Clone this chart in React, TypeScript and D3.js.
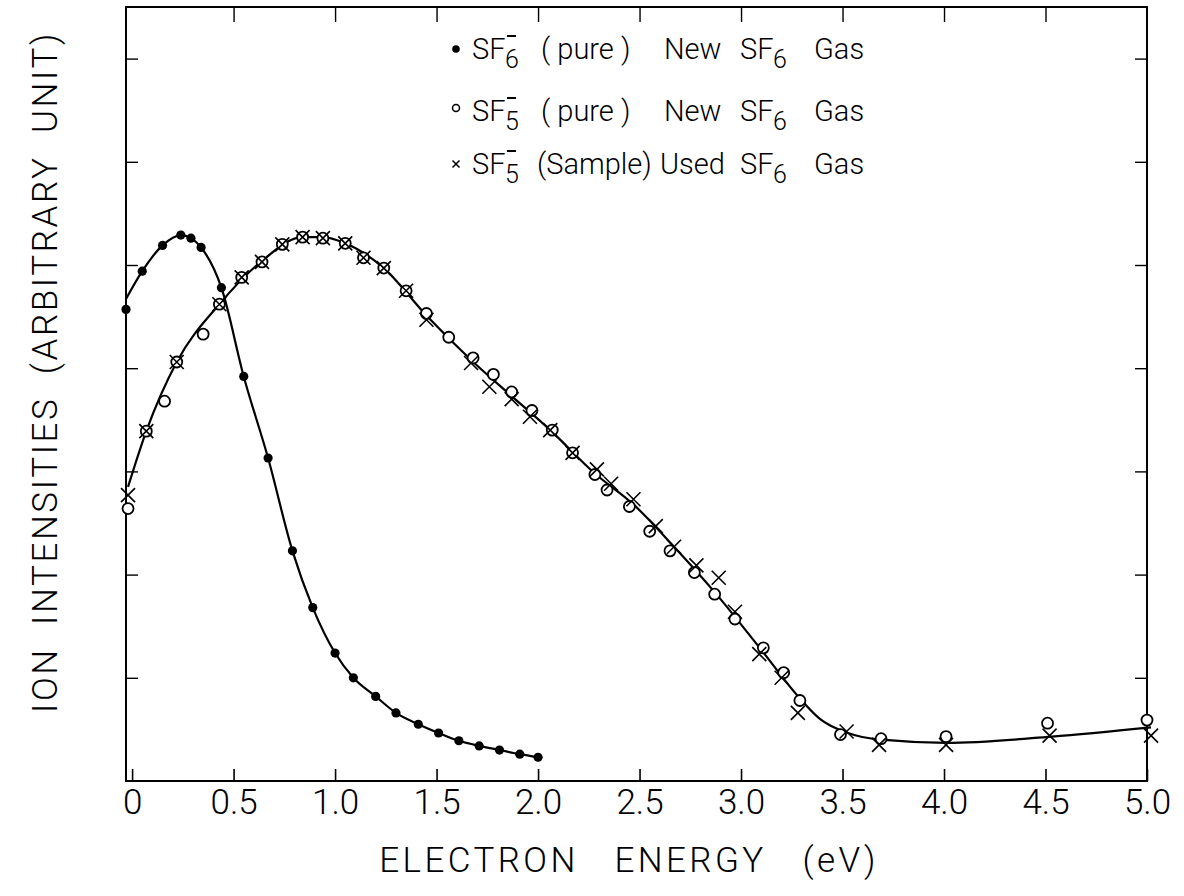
import React, { useEffect, useRef } from 'react';
import * as d3 from 'd3';

// SF6- (pure), new SF6 gas  (filled dots)
const sf6Energy = [-0.03, 0.05, 0.15, 0.24, 0.29, 0.34, 0.44, 0.55, 0.67, 0.79, 0.89, 1.0, 1.09, 1.2, 1.3, 1.41, 1.51, 1.61, 1.71, 1.81, 1.91, 2.0];
const sf6Intensity = [4.57, 4.94, 5.19, 5.29, 5.26, 5.17, 4.78, 3.92, 3.13, 2.23, 1.68, 1.24, 1.0, 0.82, 0.66, 0.55, 0.465, 0.39, 0.34, 0.3, 0.26, 0.23];
// hand drawn line through the SF6- dots
const sf6CurveEnergy = [-0.03, 0.05, 0.15, 0.24, 0.29, 0.34, 0.44, 0.55, 0.67, 0.79, 0.89, 1.0, 1.09, 1.2, 1.3, 1.41, 1.51, 1.61, 1.71, 1.81, 1.91, 2.0];
const sf6CurveIntensity = [4.67, 4.94, 5.19, 5.29, 5.26, 5.17, 4.78, 3.92, 3.13, 2.23, 1.68, 1.24, 1.0, 0.82, 0.66, 0.55, 0.465, 0.39, 0.34, 0.3, 0.26, 0.23];

// SF5- (pure), new SF6 gas  (open circles)
const sf5PureEnergy = [-0.02, 0.07, 0.16, 0.22, 0.35, 0.43, 0.54, 0.64, 0.74, 0.84, 0.94, 1.05, 1.14, 1.24, 1.35, 1.45, 1.56, 1.68, 1.78, 1.87, 1.97, 2.07, 2.17, 2.28, 2.34, 2.45, 2.55, 2.65, 2.77, 2.87, 2.97, 3.11, 3.21, 3.29, 3.49, 3.69, 4.01, 4.51, 5.0];
const sf5PureIntensity = [2.64, 3.39, 3.68, 4.06, 4.33, 4.62, 4.88, 5.03, 5.2, 5.27, 5.26, 5.21, 5.07, 4.97, 4.75, 4.53, 4.3, 4.1, 3.94, 3.77, 3.59, 3.4, 3.18, 2.97, 2.82, 2.66, 2.42, 2.23, 2.02, 1.81, 1.57, 1.29, 1.05, 0.78, 0.45, 0.41, 0.43, 0.56, 0.59];

// SF5- (sample), used SF6 gas  (crosses)
const sf5SampleEnergy = [-0.02, 0.07, 0.22, 0.43, 0.54, 0.64, 0.74, 0.84, 0.94, 1.05, 1.14, 1.24, 1.35, 1.45, 1.67, 1.76, 1.87, 1.96, 2.06, 2.17, 2.29, 2.36, 2.47, 2.58, 2.67, 2.78, 2.89, 2.97, 3.09, 3.2, 3.28, 3.52, 3.68, 4.01, 4.52, 5.02];
const sf5SampleIntensity = [2.77, 3.39, 4.06, 4.62, 4.88, 5.03, 5.2, 5.27, 5.26, 5.21, 5.07, 4.97, 4.75, 4.47, 4.05, 3.82, 3.7, 3.53, 3.4, 3.18, 3.02, 2.88, 2.73, 2.47, 2.27, 2.09, 1.97, 1.64, 1.23, 1.0, 0.66, 0.48, 0.35, 0.35, 0.44, 0.44];

// hand drawn line through the SF5- points
const sf5CurveEnergy = [-0.02, 0.07, 0.22, 0.43, 0.64, 0.84, 0.94, 1.05, 1.24, 1.45, 1.67, 1.87, 2.06, 2.28, 2.47, 2.67, 2.87, 3.1, 3.29, 3.39, 3.52, 3.69, 4.01, 4.53, 5.02];
const sf5CurveIntensity = [2.85, 3.39, 4.06, 4.62, 5.04, 5.27, 5.27, 5.21, 4.97, 4.51, 4.08, 3.73, 3.4, 2.98, 2.68, 2.27, 1.83, 1.27, 0.8, 0.6, 0.47, 0.4, 0.37, 0.43, 0.52];

const xTicks = [0, 0.5, 1.0, 1.5, 2.0, 2.5, 3.0, 3.5, 4.0, 4.5, 5.0];
const xTickLabels = ['0', '0.5', '1.0', '1.5', '2.0', '2.5', '3.0', '3.5', '4.0', '4.5', '5.0'];
const yTicks = [1, 2, 3, 4, 5, 6, 7];

const FONT = 'Roboto, "DejaVu Sans", sans-serif';

const zip = (xs: number[], ys: number[]) => xs.map((x, i) => [x, ys[i]] as [number, number]);

const App = () => {
  const ref = useRef<SVGSVGElement>(null);

  useEffect(() => {
    const svg = d3.select(ref.current);
    svg.selectAll('*').remove();

    const left = 126;
    const right = 1147;
    const top = 7;
    const bottom = 781;

    const x = d3.scaleLinear().domain([-0.03, 5.0]).range([left, right]);
    const y = d3.scaleLinear().domain([0, 7.5]).range([bottom, top]);

    // frame
    svg
      .append('rect')
      .attr('x', left)
      .attr('y', top)
      .attr('width', right - left)
      .attr('height', bottom - top)
      .attr('fill', 'none')
      .attr('stroke', '#000')
      .attr('stroke-width', 2);

    // axes, ticks pointing inward
    const xb = svg
      .append('g')
      .attr('transform', `translate(0,${bottom})`)
      .call(
        d3
          .axisBottom(x)
          .tickValues(xTicks)
          .tickSize(-12)
          .tickPadding(8)
          .tickFormat((d, i) => xTickLabels[i])
      );
    xb.select('.domain').remove();
    xb.selectAll('line').attr('stroke-width', 1.6);
    xb.selectAll('text')
      .attr('font-family', FONT)
      .attr('font-weight', 300)
      .attr('font-size', 35)
      .attr('fill', '#000');

    const xt = svg
      .append('g')
      .attr('transform', `translate(0,${top})`)
      .call(d3.axisTop(x).tickValues(xTicks.slice(1, -1)).tickSize(-15).tickFormat(() => ''));
    xt.select('.domain').remove();
    xt.selectAll('line').attr('stroke-width', 1.4);

    const yl = svg
      .append('g')
      .attr('transform', `translate(${left},0)`)
      .call(d3.axisLeft(y).tickValues(yTicks).tickSize(-12).tickFormat(() => ''));
    yl.select('.domain').remove();
    yl.selectAll('line').attr('stroke-width', 1.4);

    const yr = svg
      .append('g')
      .attr('transform', `translate(${right},0)`)
      .call(d3.axisRight(y).tickValues(yTicks).tickSize(-12).tickFormat(() => ''));
    yr.select('.domain').remove();
    yr.selectAll('line').attr('stroke-width', 1.4);

    // curves
    const line = d3
      .line<[number, number]>()
      .x((d) => x(d[0]))
      .y((d) => y(d[1]))
      .curve(d3.curveMonotoneX);

    svg
      .append('path')
      .attr('d', line(zip(sf6CurveEnergy, sf6CurveIntensity)))
      .attr('fill', 'none')
      .attr('stroke', '#000')
      .attr('stroke-width', 2.2);

    svg
      .append('path')
      .attr('d', line(zip(sf5CurveEnergy, sf5CurveIntensity)))
      .attr('fill', 'none')
      .attr('stroke', '#000')
      .attr('stroke-width', 2.2);

    // markers
    svg
      .append('g')
      .selectAll('circle')
      .data(zip(sf6Energy, sf6Intensity))
      .join('circle')
      .attr('cx', (d) => x(d[0]))
      .attr('cy', (d) => y(d[1]))
      .attr('r', 4.6)
      .attr('fill', '#000');

    svg
      .append('g')
      .selectAll('circle')
      .data(zip(sf5PureEnergy, sf5PureIntensity))
      .join('circle')
      .attr('cx', (d) => x(d[0]))
      .attr('cy', (d) => y(d[1]))
      .attr('r', 5.5)
      .attr('fill', '#fff')
      .attr('stroke', '#000')
      .attr('stroke-width', 1.8);

    const cross = (s: number) => `M${-s},${-s}L${s},${s}M${-s},${s}L${s},${-s}`;
    svg
      .append('g')
      .selectAll('path')
      .data(zip(sf5SampleEnergy, sf5SampleIntensity))
      .join('path')
      .attr('transform', (d) => `translate(${x(d[0])},${y(d[1])})`)
      .attr('d', cross(7))
      .attr('stroke', '#000')
      .attr('stroke-width', 1.6);

    // legend
    const lg = svg
      .append('g')
      .attr('font-family', FONT)
      .attr('font-weight', 300)
      .attr('font-size', 29)
      .attr('fill', '#000');

    const rows = [
      { yy: 59, ion: '6', mid: '( pure )', used: 'New' },
      { yy: 121, ion: '5', mid: '( pure )', used: 'New' },
      { yy: 174, ion: '5', mid: '(Sample)', used: 'Used' },
    ];

    rows.forEach((r, i) => {
      const my = r.yy - 10;
      if (i === 0) lg.append('circle').attr('cx', 456).attr('cy', my).attr('r', 3.8);
      if (i === 1)
        lg.append('circle')
          .attr('cx', 456)
          .attr('cy', my - 3)
          .attr('r', 3.5)
          .attr('fill', 'none')
          .attr('stroke', '#000')
          .attr('stroke-width', 1.5);
      if (i === 2)
        lg.append('path')
          .attr('transform', `translate(456,${my})`)
          .attr('d', cross(3.5))
          .attr('stroke', '#000')
          .attr('stroke-width', 1.5);

      lg.append('text').attr('x', 472).attr('y', r.yy).text('SF');
      lg.append('text').attr('x', 505).attr('y', r.yy + 9).attr('font-size', 25).text(r.ion);
      lg.append('line')
        .attr('x1', 507)
        .attr('x2', 516)
        .attr('y1', r.yy - 23)
        .attr('y2', r.yy - 23)
        .attr('stroke', '#000')
        .attr('stroke-width', 2);
      lg.append('text').attr('x', i === 2 ? 537 : 541).attr('y', r.yy).attr('xml:space', 'preserve').text(r.mid);
      lg.append('text').attr('x', i === 2 ? 660 : 664).attr('y', r.yy).text(r.used);
      lg.append('text').attr('x', 740).attr('y', r.yy).text('SF');
      lg.append('text').attr('x', 773).attr('y', r.yy + 9).attr('font-size', 25).text('6');
      lg.append('text').attr('x', 814).attr('y', r.yy).text('Gas');
    });

    // axis titles
    svg
      .append('text')
      .attr('x', 629)
      .attr('y', 872)
      .attr('text-anchor', 'middle')
      .attr('font-family', FONT)
      .attr('font-weight', 300)
      .attr('font-size', 35)
      .attr('letter-spacing', 3.4)
      .attr('xml:space', 'preserve')
      .text('ELECTRON   ENERGY   (eV)');

    svg
      .append('text')
      .attr('transform', 'translate(57,372) rotate(-90)')
      .attr('text-anchor', 'middle')
      .attr('font-family', FONT)
      .attr('font-weight', 300)
      .attr('font-size', 35)
      .attr('letter-spacing', 2.6)
      .attr('xml:space', 'preserve')
      .text('ION  INTENSITIES  (ARBITRARY  UNIT)');
  }, []);

  return (
    <svg
      ref={ref}
      width={1184}
      height={896}
      style={{ position: 'absolute', left: 0, top: 0, background: '#fff', display: 'block' }}
    />
  );
};

export default App;
